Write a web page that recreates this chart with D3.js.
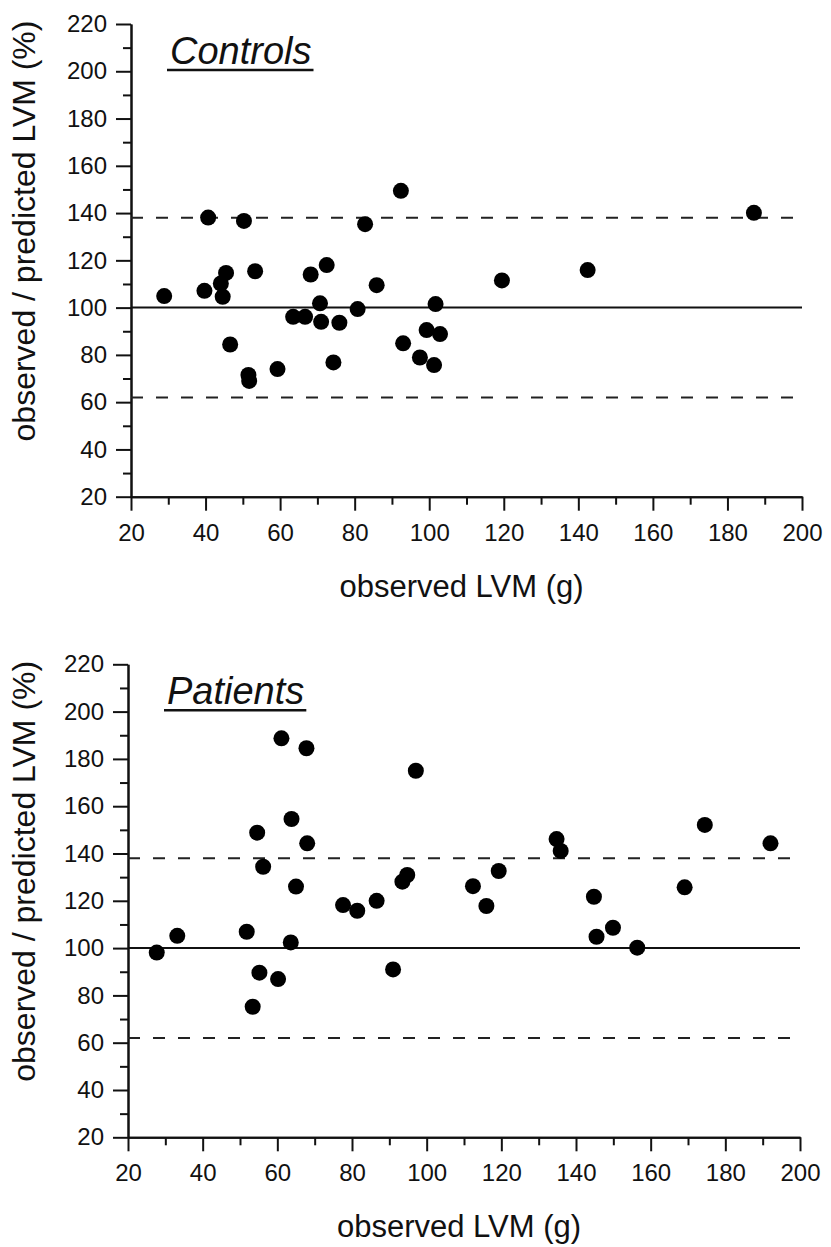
<!DOCTYPE html>
<html>
<head>
<meta charset="utf-8">
<script src="https://cdn.jsdelivr.net/npm/d3@7"></script>
<style>
  body { margin: 0; background: #fff; }
  svg text { font-family: "Liberation Sans", Arial, sans-serif; fill: #111; }
</style>
</head>
<body>
<div id="vis"></div>
<script>
// values
var xMajor = [20, 40, 60, 80, 100, 120, 140, 160, 180, 200];
var xMinor = [30, 50, 70, 90, 110, 130, 150, 170, 190];
var yMajor = [20, 40, 60, 80, 100, 120, 140, 160, 180, 200, 220];
var yMinor = [30, 50, 70, 90, 110, 130, 150, 170, 190, 210];

var meanLine = 100;
var limitLines = [62, 138];

var controlsLVM = [40.7, 50.3, 82.8, 92.4, 187.1, 142.5, 119.5, 28.9, 39.7, 44.1, 45.5, 44.6, 53.3,
                   46.6, 51.5, 51.7, 59.3, 63.5, 66.7, 68.2, 72.5, 70.7, 71.0, 75.9, 74.3, 80.8,
                   85.9, 93.0, 99.3, 97.5, 101.3, 101.7, 102.9];
var controlsRatio = [138.1, 136.7, 135.3, 149.4, 140.1, 115.9, 111.5, 104.9, 107.1, 110.2, 114.7, 104.6, 115.4,
                     84.4, 71.5, 69.0, 74.0, 96.1, 96.1, 114.0, 118.0, 101.8, 94.0, 93.6, 76.8, 99.4,
                     109.5, 84.9, 90.5, 78.9, 75.7, 101.5, 88.8];

var patientsLVM = [27.7, 33.2, 51.8, 53.4, 54.6, 55.2, 56.2, 60.2, 61.1, 63.6, 63.8, 65.0, 67.8,
                   68.0, 77.6, 81.4, 86.6, 91.0, 93.5, 94.8, 97.1, 112.4, 116.0, 119.3, 134.8, 135.9,
                   144.8, 145.5, 149.9, 156.4, 169.1, 174.5, 192.1];
var patientsRatio = [98.1, 105.2, 106.9, 75.2, 148.8, 89.6, 134.4, 86.9, 188.7, 102.4, 154.6, 126.0, 184.5,
                     144.3, 118.2, 115.8, 120.0, 91.0, 128.1, 130.9, 175.0, 126.2, 117.8, 132.6, 146.1, 141.1,
                     121.7, 104.8, 108.6, 100.2, 125.7, 152.1, 144.3];

var width = 831, height = 1247;

var svg = d3.select("#vis")
  .append("svg")
  .attr("width", width)
  .attr("height", height);

var panels = [
  {title: "Controls", lvm: controlsLVM, ratio: controlsRatio,
   left: 131, right: 802, top: 24, bottom: 496.7},
  {title: "Patients", lvm: patientsLVM, ratio: patientsRatio,
   left: 128, right: 800, top: 664.3, bottom: 1137.3}
];

panels.forEach(drawPanel);

function drawPanel(p) {
  var x = d3.scaleLinear().domain([20, 200]).range([p.left, p.right]);
  var y = d3.scaleLinear().domain([20, 220]).range([p.bottom, p.top]);
  var g = svg.append("g");

  // minor ticks first, then majors with labels
  g.append("g")
    .attr("transform", "translate(0," + p.bottom + ")")
    .call(d3.axisBottom(x).tickValues(xMinor).tickSize(8).tickSizeOuter(0).tickFormat(""))
    .call(styleAxis);
  g.append("g")
    .attr("transform", "translate(0," + p.bottom + ")")
    .call(d3.axisBottom(x).tickValues(xMajor).tickSize(14).tickSizeOuter(0).tickPadding(13))
    .call(styleAxis)
    .selectAll("text").attr("dy", "0.71em");

  g.append("g")
    .attr("transform", "translate(" + p.left + ",0)")
    .call(d3.axisLeft(y).tickValues(yMinor).tickSize(8).tickSizeOuter(0).tickFormat(""))
    .call(styleAxis);
  g.append("g")
    .attr("transform", "translate(" + p.left + ",0)")
    .call(d3.axisLeft(y).tickValues(yMajor).tickSize(15).tickSizeOuter(0).tickPadding(9))
    .call(styleAxis);

  // mean and limits of agreement
  g.append("line")
    .attr("x1", x(20)).attr("x2", x(200))
    .attr("y1", y(meanLine)).attr("y2", y(meanLine))
    .attr("stroke", "#111").attr("stroke-width", 2);

  g.selectAll(".limit")
    .data(limitLines)
    .enter().append("line")
    .attr("class", "limit")
    .attr("x1", x(20)).attr("x2", x(200))
    .attr("y1", function(d) { return y(d); })
    .attr("y2", function(d) { return y(d); })
    .attr("stroke", "#222").attr("stroke-width", 2)
    .attr("stroke-dasharray", "12,13");

  // points
  g.selectAll(".dot")
    .data(d3.range(p.lvm.length))
    .enter().append("circle")
    .attr("class", "dot")
    .attr("cx", function(i) { return x(p.lvm[i]); })
    .attr("cy", function(i) { return y(p.ratio[i]); })
    .attr("r", 8)
    .attr("fill", "#000");

  // panel title, italic and underlined
  var t = g.append("text")
    .attr("x", p.left + 39)
    .attr("y", p.top + 40)
    .attr("font-size", "38px")
    .attr("font-style", "italic")
    .text(p.title);
  var len = t.node().getComputedTextLength();
  g.append("line")
    .attr("x1", p.left + 36).attr("x2", p.left + 39 + len + 2)
    .attr("y1", p.top + 46).attr("y2", p.top + 46)
    .attr("stroke", "#111").attr("stroke-width", 2.5);

  // axis titles
  g.append("text")
    .attr("x", (p.left + p.right) / 2 - 5)
    .attr("y", p.bottom + 100)
    .attr("text-anchor", "middle")
    .attr("font-size", "31px")
    .text("observed LVM (g)");

  g.append("text")
    .attr("transform", "translate(35," + (p.top + 207) + ") rotate(-90)")
    .attr("text-anchor", "middle")
    .attr("font-size", "32px")
    .text("observed / predicted LVM (%)");
}

function styleAxis(sel) {
  sel.select(".domain").attr("stroke", "#111").attr("stroke-width", 2);
  sel.selectAll(".tick line").attr("stroke", "#111").attr("stroke-width", 2);
  sel.selectAll(".tick text")
    .attr("font-size", "24px")
    .attr("fill", "#111")
    .style("font-family", "'Liberation Sans', Arial, sans-serif");
}
</script>
</body>
</html>
